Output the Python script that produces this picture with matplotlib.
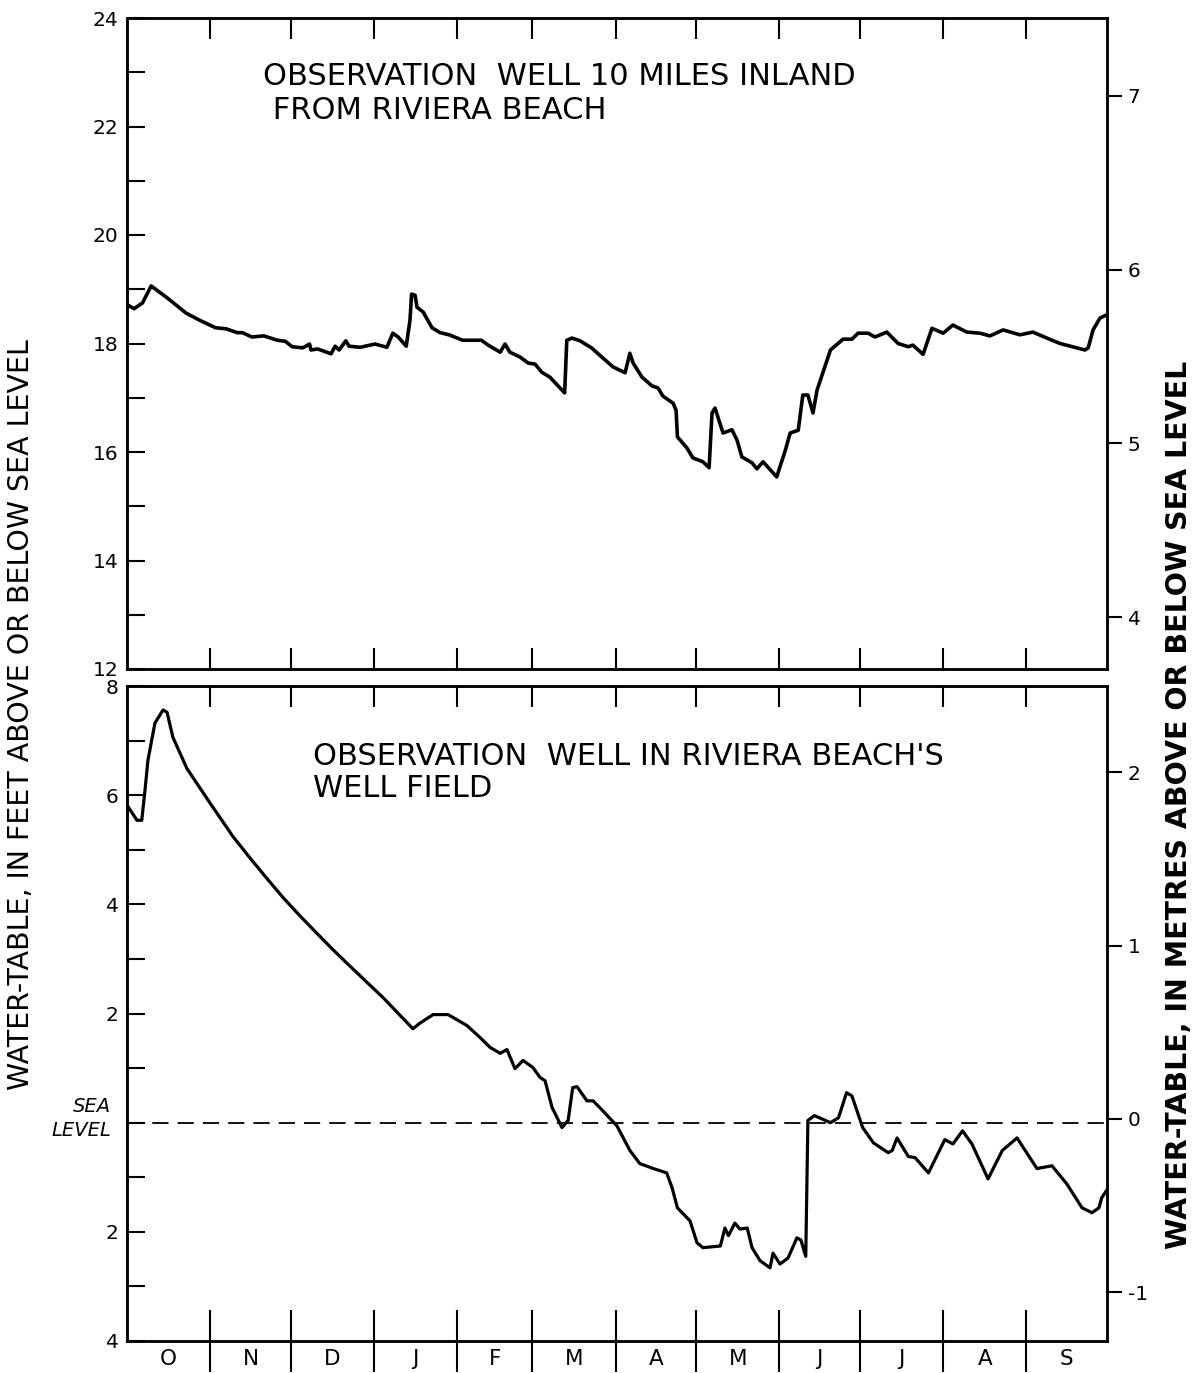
import matplotlib
matplotlib.use("Agg")
import matplotlib.pyplot as plt
from matplotlib.ticker import FixedLocator, NullFormatter, FuncFormatter
import matplotlib.transforms as mtransforms

# ---------------- data ----------------
month_labels = ["O", "N", "D", "J", "F", "M", "A", "M", "J", "J", "A", "S"]
month_days = [31, 30, 31, 31, 28, 31, 30, 31, 30, 31, 31, 30]

# Upper well (10 miles inland), day of water year vs feet above sea level
top_day = [
    0, 2.6, 5.8, 9, 15, 22, 27, 33, 37, 41,
    43, 46.5, 51, 56, 59, 61.5, 65.5, 68, 68.5, 71,
    76, 77.5, 79, 81.5, 82.7, 86.8, 92.4, 96.8, 99, 101,
    104, 105.4, 106, 107.3, 108, 110.3, 113.6, 116.6, 120, 125,
    132, 134.5, 139, 140.8, 142.6, 146.4, 149.4, 152, 154.5, 157.5,
    163, 163.8, 165.7, 168.7, 173, 177.3, 181, 185.5, 187.3, 188.5,
    191.8, 195.5, 197.8, 199.6, 203.4, 204.5, 205, 208.6, 210.8, 214.5,
    216.8, 217.9, 219, 222, 225.3, 227.2, 229, 232.8, 234.6, 236.9,
    242, 243.2, 245, 247, 250, 251.7, 253.6, 255.5, 257, 262,
    266.7, 270, 272.3, 276, 278.6, 283, 287.2, 291, 292.7, 296.5,
    299.8, 304, 307.6, 312.8, 317.7, 321.4, 326.3, 332.6, 337.4, 342.6,
    347.5, 356.8, 358, 359.8, 362.4, 365]
top_ft = [
    18.72, 18.64, 18.75, 19.06, 18.84, 18.56, 18.43, 18.29, 18.27, 18.2,
    18.2, 18.12, 18.14, 18.06, 18.04, 17.94, 17.92, 17.99, 17.88, 17.9,
    17.81, 17.95, 17.88, 18.05, 17.95, 17.93, 17.99, 17.93, 18.19, 18.12,
    17.95, 18.43, 18.91, 18.89, 18.67, 18.58, 18.29, 18.2, 18.16, 18.06,
    18.06, 17.97, 17.84, 17.99, 17.84, 17.75, 17.64, 17.62, 17.47, 17.38,
    17.09, 18.06, 18.1, 18.05, 17.92, 17.73, 17.57, 17.46, 17.82, 17.64,
    17.38, 17.22, 17.18, 17.03, 16.9, 16.77, 16.28, 16.07, 15.89, 15.82,
    15.71, 16.72, 16.81, 16.35, 16.41, 16.22, 15.91, 15.8, 15.69, 15.82,
    15.54, 15.73, 16.0, 16.35, 16.4, 17.05, 17.05, 16.72, 17.14, 17.88,
    18.08, 18.08, 18.19, 18.19, 18.12, 18.21, 18.0, 17.94, 17.97, 17.8,
    18.28, 18.19, 18.34, 18.21, 18.19, 18.14, 18.25, 18.16, 18.21, 18.1,
    18.0, 17.88, 17.92, 18.25, 18.47, 18.53]

# Lower well (Riviera Beach well field), feet relative to sea level
bot_day = [
    0, 3.7, 5.5, 6.7, 7.8, 10.4, 13.4, 14.9, 17.1, 22.3,
    31, 39.5, 45.8, 52, 58.2, 64.4, 70.7, 76.7, 83, 89.4,
    95.4, 106.5, 109, 114, 119.6, 126.6, 131.5, 135.2, 139, 141.5,
    144.5, 147.5, 151.2, 153.8, 155.7, 158.3, 162, 164.3, 166, 167.6,
    171.3, 173.6, 176, 182.5, 187.3, 191, 196, 201, 203, 205,
    209.7, 212.3, 214.5, 221, 222.7, 224, 226.4, 228.3, 231, 232.8,
    235.8, 239.5, 240.6, 243.2, 246.2, 249.5, 251, 252.8, 253.6, 256,
    262, 265, 268, 270, 274, 278, 283.5, 285, 286.8, 291,
    293.5, 298.5, 304.6, 307.6, 311.2, 314.7, 320.7, 326, 331.5, 338.9,
    344.5, 350, 355.7, 359.4, 362, 363, 365]
bot_ft = [
    5.82, 5.54, 5.54, 6.09, 6.64, 7.32, 7.56, 7.52, 7.06, 6.49,
    5.85, 5.24, 4.85, 4.48, 4.12, 3.79, 3.47, 3.17, 2.87, 2.57,
    2.29, 1.72, 1.82, 1.98, 1.98, 1.78, 1.56, 1.38, 1.27, 1.34,
    0.99, 1.14, 1.01, 0.83, 0.77, 0.28, -0.09, 0.04, 0.64, 0.66,
    0.40, 0.40, 0.28, -0.06, -0.51, -0.75, -0.84, -0.92, -1.19, -1.56,
    -1.8, -2.2, -2.29, -2.26, -1.93, -2.07, -1.84, -1.95, -1.93, -2.29,
    -2.53, -2.66, -2.39, -2.59, -2.48, -2.11, -2.15, -2.45, 0.04, 0.13,
    0.0, 0.09, 0.55, 0.49, -0.09, -0.37, -0.55, -0.51, -0.28, -0.62,
    -0.64, -0.92, -0.31, -0.39, -0.15, -0.39, -1.03, -0.51, -0.28, -0.84,
    -0.79, -1.12, -1.56, -1.65, -1.56, -1.38, -1.23]

top_yticks = [12, 14, 16, 18, 20, 22, 24]
top_mticks = [4, 5, 6, 7]
bot_yticks = [-4, -2, 2, 4, 6, 8]
bot_mticks = [-1, 0, 1, 2]

# ---------------- figure ----------------
W, H = 1194, 1373
fig = plt.figure(figsize=(W / 100, H / 100), dpi=100)
plt.rcParams['font.family'] = ['DejaVu Sans']

def fx(px):
    return px / W

def fy(py):
    return 1 - py / H

L, R = 127, 1107
ax1 = fig.add_axes([fx(L), fy(669), fx(R - L), fy(18) - fy(669)])
ax2 = fig.add_axes([fx(L), fy(1341), fx(R - L), fy(686) - fy(1341)])

bounds = [0]
for d in month_days:
    bounds.append(bounds[-1] + d)
mids = [(bounds[i] + bounds[i + 1]) / 2 for i in range(12)]
inner_bounds = bounds[1:-1]

LW_SP = 1.8
for ax in (ax1, ax2):
    ax.set_xlim(0, 365)
    for s in ax.spines.values():
        s.set_linewidth(LW_SP)

ax1.plot(top_day, top_ft, color='black', lw=2.6, solid_joinstyle='round', solid_capstyle='round')
ax2.plot(bot_day, bot_ft, color='black', lw=2.3, solid_joinstyle='round', solid_capstyle='round')
ax2.axhline(0, color='black', lw=1.3, dashes=(9, 5))

# y axes (feet)
ax1.set_ylim(12, 24)
ax1.yaxis.set_major_locator(FixedLocator(top_yticks))
ax1.yaxis.set_minor_locator(FixedLocator(list(range(13, 24, 2))))
ax2.set_ylim(-4, 8)
ax2.yaxis.set_major_locator(FixedLocator(bot_yticks))
ax2.yaxis.set_minor_locator(FixedLocator([-3, -1, 0, 1, 3, 5, 7]))
ax2.yaxis.set_major_formatter(FuncFormatter(lambda v, p: f"{abs(int(v))}"))

for ax in (ax1, ax2):
    ax.tick_params(axis='y', which='both', direction='in', length=13, width=1.5,
                   left=True, right=True, labelsize=14.5, pad=6)

# x axes (months)
for ax in (ax1, ax2):
    ax.xaxis.set_major_locator(FixedLocator(inner_bounds))
    ax.xaxis.set_major_formatter(NullFormatter())
    ax.xaxis.set_minor_locator(FixedLocator(mids))

ax1.tick_params(axis='x', which='major', direction='in', length=15, width=1.5, top=True, bottom=True)
ax1.tick_params(axis='x', which='minor', length=0, labelbottom=False)
ax2.tick_params(axis='x', which='major', direction='in', length=15, width=1.5, top=True, bottom=False)
ax2.xaxis.set_minor_formatter(FuncFormatter(lambda v, p: month_labels[p] if p is not None and p < 12 else ""))
ax2.tick_params(axis='x', which='minor', length=0, labelsize=15.5, pad=6)

# crossing ticks at bottom of lower panel
ax2b = ax2.secondary_xaxis('bottom')
ax2b.xaxis.set_major_locator(FixedLocator(inner_bounds))
ax2b.xaxis.set_major_formatter(NullFormatter())
ax2b.tick_params(axis='x', which='major', direction='inout', length=44, width=1.5)
ax2b.spines['bottom'].set_visible(False)

# sea level label
trans = mtransforms.blended_transform_factory(ax2.transAxes, ax2.transData)
ax2.text(-0.016, 0.08, "SEA\nLEVEL", transform=trans, ha='right', va='center',
         fontsize=14, style='italic', linespacing=1.3)

# right axes (metres)
r1 = ax1.twinx()
r1.set_ylim(3.701, 7.449)
r1.yaxis.set_major_locator(FixedLocator(top_mticks))
r2 = ax2.twinx()
r2.set_ylim(-1.28, 2.496)
r2.yaxis.set_major_locator(FixedLocator(bot_mticks))
r2.yaxis.set_major_formatter(FuncFormatter(lambda v, p: f"{int(v)}"))
for r in (r1, r2):
    r.tick_params(axis='y', direction='out', length=11, width=1.5, labelsize=14.5, pad=4)
    for s in r.spines.values():
        s.set_linewidth(LW_SP)

# titles inside the panels
ax1.text((263 - L) / (R - L), 0.884, "OBSERVATION  WELL 10 MILES INLAND\n FROM RIVIERA BEACH",
         transform=ax1.transAxes, ha='left', va='center', fontsize=22, linespacing=1.25)
ax2.text((313 - L) / (R - L), 0.868, "OBSERVATION  WELL IN RIVIERA BEACH'S\nWELL FIELD",
         transform=ax2.transAxes, ha='left', va='center', fontsize=22, linespacing=1.1)

# axis titles
fig.text(fx(21), fy(715), "WATER-TABLE, IN FEET ABOVE OR BELOW SEA LEVEL", rotation=90,
         ha='center', va='center', fontsize=20.5)
fig.text(fx(1179), fy(805), "WATER-TABLE, IN METRES ABOVE OR BELOW SEA LEVEL", rotation=90,
         ha='center', va='center', fontsize=20.5, fontweight='bold')

fig.savefig("out.png", dpi=100)
